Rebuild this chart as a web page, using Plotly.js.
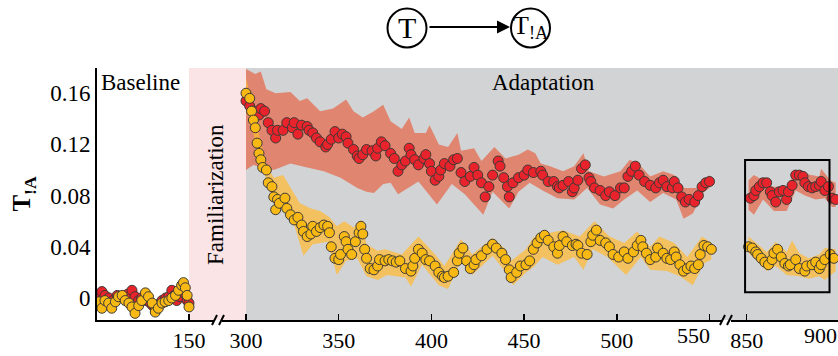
<!DOCTYPE html>
<html>
<head>
<meta charset="utf-8">
<script src="https://cdn.plot.ly/plotly-3.0.1.min.js"></script>
<style>
  html, body { margin: 0; padding: 0; background: #ffffff; }
  #chart { width: 838px; height: 356px; }
</style>
</head>
<body>
<div id="chart"></div>
<script>
// ---------- Baseline block (trials 1-150) ----------
const blRedX = [1, 5, 8, 13, 19, 26, 33, 38, 44, 50, 57, 62, 68, 73, 80, 87, 91, 95, 100, 106, 112, 117, 122, 126, 130, 135, 141, 144, 147, 150];
const blRedY = [0.001, 0.003, 0.005, 0.002, 0.000, -0.002, 0.002, 0.001, 0.000, 0.003, 0.006, 0.001, -0.002, 0.000, -0.002, -0.004, -0.006, -0.008, -0.005, -0.002, 0.000, 0.001, 0.006, 0.002, -0.002, 0.001, 0.005, 0.003, -0.002, -0.004];
const blYelX = [1, 3, 8, 13, 19, 24, 30, 35, 41, 46, 52, 57, 62, 68, 73, 79, 84, 90, 95, 100, 106, 111, 117, 122, 128, 133, 138, 141, 144, 147, 150];
const blYelY = [-0.004, -0.003, -0.008, -0.002, -0.004, -0.008, -0.003, 0.001, 0.002, -0.002, -0.004, -0.007, -0.012, -0.006, -0.002, 0.004, 0.001, -0.004, -0.011, -0.008, -0.004, -0.003, -0.002, 0.000, 0.002, 0.006, 0.010, 0.012, 0.008, 0.002, -0.007];
const blRedBandX = [1, 20, 40, 57, 75, 95, 115, 130, 142, 150];
const blRedLo = [-0.003, -0.004, -0.003, 0.001, -0.004, -0.011, -0.003, -0.005, 0.001, -0.007];
const blRedHi = [0.005, 0.004, 0.005, 0.009, 0.003, -0.004, 0.004, 0.003, 0.009, 0.000];
const blYelBandX = [1, 13, 24, 40, 62, 79, 95, 117, 138, 150];
const blYelLo = [-0.007, -0.005, -0.011, -0.001, -0.015, 0.000, -0.014, -0.005, 0.006, -0.010];
const blYelHi = [-0.001, 0.001, -0.005, 0.005, -0.009, 0.007, -0.008, 0.001, 0.014, -0.004];

// ---------- Adaptation block (trials 300-550) ----------
const adRedX = [300, 302, 304, 307, 308, 310, 312, 314, 316, 317, 320, 322, 325, 326, 328, 330, 333, 334, 336, 338, 340, 343, 344, 346, 348, 350, 352, 354, 355, 358, 360, 361, 363, 365, 368, 370, 371, 373, 375, 378, 380, 382, 384, 386, 388, 389, 391, 393, 396, 397, 399, 400, 402, 404, 405, 407, 410, 412, 414, 416, 418, 421, 423, 425, 427, 429, 431, 433, 436, 437, 439, 441, 442, 444, 447, 450, 452, 455, 459, 460, 463, 466, 468, 469, 471, 474, 476, 477, 479, 481, 483, 485, 486, 488, 491, 494, 496, 499, 502, 504, 506, 508, 510, 512, 515, 518, 521, 523, 525, 527, 530, 531, 533, 535, 537, 539, 542, 544, 546, 548, 550];
const adRedY = [0.154, 0.150, 0.146, 0.143, 0.148, 0.146, 0.137, 0.131, 0.125, 0.131, 0.131, 0.137, 0.133, 0.137, 0.128, 0.135, 0.134, 0.131, 0.129, 0.125, 0.122, 0.118, 0.120, 0.124, 0.130, 0.125, 0.128, 0.126, 0.121, 0.116, 0.111, 0.109, 0.112, 0.116, 0.115, 0.111, 0.117, 0.122, 0.119, 0.113, 0.109, 0.099, 0.104, 0.107, 0.117, 0.112, 0.108, 0.104, 0.109, 0.112, 0.105, 0.099, 0.092, 0.095, 0.100, 0.105, 0.103, 0.108, 0.109, 0.098, 0.091, 0.095, 0.102, 0.096, 0.090, 0.079, 0.087, 0.096, 0.107, 0.103, 0.094, 0.087, 0.079, 0.090, 0.094, 0.096, 0.100, 0.098, 0.099, 0.096, 0.091, 0.091, 0.087, 0.086, 0.088, 0.091, 0.083, 0.086, 0.092, 0.101, 0.104, 0.094, 0.091, 0.086, 0.084, 0.080, 0.083, 0.080, 0.086, 0.086, 0.095, 0.099, 0.103, 0.096, 0.091, 0.088, 0.086, 0.090, 0.092, 0.087, 0.086, 0.091, 0.086, 0.079, 0.075, 0.077, 0.075, 0.080, 0.087, 0.090, 0.091];
const adYelX = [300, 302, 303, 304, 305, 306, 307, 308, 309, 311, 312, 314, 315, 316, 317, 318, 321, 322, 324, 326, 328, 330, 331, 333, 335, 336, 338, 340, 342, 344, 345, 346, 348, 350, 351, 353, 354, 355, 357, 359, 361, 362, 363, 364, 365, 367, 369, 371, 372, 375, 377, 379, 381, 383, 386, 389, 390, 391, 393, 395, 397, 399, 402, 404, 406, 407, 409, 412, 414, 415, 417, 419, 421, 423, 424, 427, 430, 433, 435, 438, 440, 442, 443, 446, 448, 451, 453, 455, 457, 459, 461, 463, 466, 468, 469, 471, 473, 476, 478, 479, 481, 484, 486, 487, 489, 491, 494, 496, 498, 501, 504, 506, 509, 511, 513, 514, 516, 518, 521, 522, 525, 527, 529, 531, 532, 534, 536, 538, 540, 542, 544, 545, 547, 549, 551];
const adYelY = [0.160, 0.156, 0.146, 0.139, 0.133, 0.121, 0.113, 0.108, 0.102, 0.100, 0.090, 0.087, 0.079, 0.069, 0.077, 0.074, 0.078, 0.070, 0.065, 0.061, 0.063, 0.057, 0.052, 0.048, 0.050, 0.056, 0.052, 0.055, 0.057, 0.056, 0.051, 0.040, 0.031, 0.030, 0.034, 0.048, 0.044, 0.038, 0.034, 0.044, 0.051, 0.056, 0.050, 0.038, 0.031, 0.023, 0.022, 0.025, 0.030, 0.029, 0.030, 0.029, 0.028, 0.029, 0.023, 0.021, 0.025, 0.031, 0.038, 0.035, 0.030, 0.029, 0.025, 0.020, 0.017, 0.016, 0.017, 0.020, 0.029, 0.035, 0.039, 0.029, 0.023, 0.026, 0.030, 0.033, 0.038, 0.042, 0.039, 0.035, 0.030, 0.022, 0.016, 0.020, 0.025, 0.026, 0.029, 0.038, 0.043, 0.047, 0.049, 0.045, 0.040, 0.035, 0.041, 0.048, 0.044, 0.041, 0.042, 0.041, 0.035, 0.034, 0.044, 0.049, 0.053, 0.045, 0.043, 0.040, 0.034, 0.032, 0.036, 0.031, 0.036, 0.041, 0.045, 0.040, 0.035, 0.030, 0.032, 0.039, 0.035, 0.031, 0.030, 0.036, 0.032, 0.026, 0.021, 0.023, 0.025, 0.023, 0.026, 0.034, 0.041, 0.040, 0.038];
const adRedHiX = [300, 305, 308, 311, 316, 324, 329, 333, 340, 347, 354, 358, 363, 369, 374, 378, 384, 388, 391, 397, 399, 404, 409, 414, 416, 423, 427, 434, 440, 447, 452, 456, 459, 464, 471, 477, 482, 485, 493, 502, 507, 513, 518, 525, 531, 536, 543, 550];
const adRedHi = [0.179, 0.175, 0.177, 0.163, 0.160, 0.161, 0.154, 0.156, 0.146, 0.148, 0.155, 0.146, 0.141, 0.146, 0.151, 0.138, 0.132, 0.141, 0.129, 0.129, 0.135, 0.120, 0.118, 0.129, 0.115, 0.117, 0.107, 0.118, 0.109, 0.112, 0.116, 0.113, 0.105, 0.103, 0.099, 0.103, 0.113, 0.099, 0.095, 0.099, 0.108, 0.103, 0.095, 0.099, 0.096, 0.086, 0.086, 0.096];
const adRedLoX = [300, 304, 308, 315, 324, 333, 342, 351, 360, 365, 369, 374, 378, 382, 393, 403, 411, 418, 428, 433, 442, 447, 453, 460, 468, 477, 484, 491, 498, 504, 511, 518, 525, 532, 536, 541, 547, 550];
const adRedLo = [0.100, 0.104, 0.102, 0.100, 0.105, 0.102, 0.099, 0.094, 0.086, 0.083, 0.082, 0.089, 0.090, 0.081, 0.091, 0.073, 0.089, 0.081, 0.065, 0.083, 0.070, 0.083, 0.090, 0.084, 0.078, 0.077, 0.086, 0.073, 0.070, 0.077, 0.084, 0.075, 0.082, 0.077, 0.062, 0.066, 0.083, 0.086];
const adYelHiX = [300, 304, 308, 311, 315, 320, 326, 329, 335, 340, 345, 349, 353, 358, 362, 365, 371, 375, 384, 393, 402, 407, 416, 422, 433, 440, 443, 451, 455, 459, 464, 471, 480, 488, 496, 504, 511, 518, 523, 531, 538, 546, 551];
const adYelHi = [0.172, 0.146, 0.122, 0.104, 0.094, 0.096, 0.081, 0.074, 0.070, 0.068, 0.063, 0.056, 0.060, 0.055, 0.061, 0.042, 0.037, 0.038, 0.034, 0.048, 0.034, 0.025, 0.046, 0.034, 0.047, 0.038, 0.029, 0.038, 0.047, 0.051, 0.051, 0.053, 0.048, 0.060, 0.048, 0.043, 0.052, 0.040, 0.048, 0.043, 0.032, 0.048, 0.043];
const adYelLoX = [300, 304, 308, 311, 315, 320, 326, 331, 336, 344, 349, 354, 360, 365, 371, 376, 386, 389, 395, 404, 409, 416, 422, 433, 442, 444, 451, 455, 460, 468, 477, 482, 487, 495, 505, 513, 518, 527, 534, 541, 547, 551];
const adYelLo = [0.154, 0.128, 0.104, 0.092, 0.078, 0.070, 0.057, 0.033, 0.042, 0.044, 0.018, 0.029, 0.031, 0.017, 0.014, 0.018, 0.016, 0.009, 0.026, 0.010, 0.007, 0.029, 0.018, 0.033, 0.017, 0.010, 0.020, 0.024, 0.032, 0.026, 0.032, 0.022, 0.038, 0.032, 0.018, 0.032, 0.022, 0.021, 0.017, 0.010, 0.027, 0.030];

// ---------- Late block (trials 850-900) ----------
const ltRedX = [852, 854, 855, 857, 859, 861, 863, 864, 866, 868, 870, 872, 873, 875, 877, 879, 881, 882, 884, 886, 888, 890, 891, 893, 895, 897, 899];
const ltRedY = [0.078, 0.080, 0.084, 0.087, 0.090, 0.090, 0.083, 0.080, 0.075, 0.083, 0.084, 0.077, 0.083, 0.088, 0.096, 0.096, 0.095, 0.090, 0.087, 0.086, 0.087, 0.088, 0.091, 0.084, 0.087, 0.078, 0.077];
const ltYelX = [851, 853, 855, 856, 858, 860, 862, 864, 865, 867, 869, 871, 873, 874, 877, 879, 882, 883, 886, 888, 890, 891, 893, 896, 898];
const ltYelY = [0.040, 0.039, 0.036, 0.034, 0.031, 0.028, 0.026, 0.030, 0.035, 0.038, 0.032, 0.027, 0.025, 0.026, 0.030, 0.023, 0.021, 0.025, 0.026, 0.028, 0.023, 0.026, 0.030, 0.034, 0.031];
const ltRedHiX = [851, 854, 859, 864, 872, 877, 882, 890, 891, 896, 899];
const ltRedHi = [0.092, 0.096, 0.092, 0.087, 0.087, 0.099, 0.097, 0.095, 0.101, 0.092, 0.090];
const ltRedLoX = [851, 854, 859, 865, 872, 877, 882, 888, 893, 897, 899];
const ltRedLo = [0.069, 0.065, 0.077, 0.068, 0.068, 0.084, 0.080, 0.077, 0.078, 0.071, 0.071];
const ltYelHiX = [851, 855, 861, 866, 872, 875, 879, 884, 890, 893, 899];
const ltYelHi = [0.048, 0.043, 0.036, 0.044, 0.036, 0.045, 0.035, 0.031, 0.034, 0.039, 0.038];
const ltYelLoX = [851, 855, 861, 866, 872, 879, 884, 890, 893, 899];
const ltYelLo = [0.035, 0.030, 0.021, 0.025, 0.018, 0.017, 0.015, 0.017, 0.014, 0.021];

// ---------- Axis ticks ----------
const yTickVals = [0, 0.04, 0.08, 0.12, 0.16];
const yTickText = ['0', '0.04', '0.08', '0.12', '0.16'];
const blTickVals = [150];
const blTickText = ['150'];
const adTickVals = [300, 350, 400, 450, 500, 550];
const adTickText = ['300', '350', '400', '450', '500', ''];
const ltTickVals = [850, 900];
const ltTickText = ['850', ''];
// labels at the ends of the broken segments, nudged left of their ticks
const adEndTickVals = [550];
const adEndTickText = ['550'];
const ltEndTickVals = [900];
const ltEndTickText = ['900'];

// ---------- Styling ----------
const SERIF = 'Liberation Serif, Times New Roman, serif';
const RED = '#e8232b';
const YEL = '#f9b915';
const RED_BAND = 'rgba(228,112,82,0.78)';
const YEL_BAND = 'rgba(255,186,50,0.72)';
const BL_RED_BAND = 'rgba(240,110,110,0.35)';
const BL_YEL_BAND = 'rgba(250,190,60,0.35)';
const EDGE = '#3e3a36';

const W = 838, H = 356;
const M = {l: 97, r: 0, t: 68, b: 36};
const PW = W - M.l - M.r, PH = H - M.t - M.b;
// pixel -> paper helpers for the decorations
const fx = p => (p - M.l) / PW;
const fy = p => (H - M.b - p) / PH;

function band(xHi, yHi, xLo, yLo, color, xa) {
  return {
    type: 'scatter', mode: 'lines', xaxis: xa, yaxis: 'y',
    x: xHi.concat(xLo.slice().reverse()),
    y: yHi.concat(yLo.slice().reverse()),
    fill: 'toself', fillcolor: color, line: {width: 0},
    hoverinfo: 'skip', showlegend: false
  };
}
function dots(x, y, color, xa) {
  return {
    type: 'scatter', mode: 'markers', xaxis: xa, yaxis: 'y', x: x, y: y,
    marker: {size: 10, color: color, line: {width: 1, color: EDGE}},
    showlegend: false
  };
}
// empty trace so a label-only overlay axis gets its own subplot
function holder(xa) {
  return {type: 'scatter', mode: 'markers', xaxis: xa, yaxis: 'y', x: [], y: [],
          hoverinfo: 'skip', showlegend: false};
}

const traces = [
  band(blRedBandX, blRedHi, blRedBandX, blRedLo, BL_RED_BAND, 'x'),
  band(blYelBandX, blYelHi, blYelBandX, blYelLo, BL_YEL_BAND, 'x'),
  dots(blRedX, blRedY, RED, 'x'),
  dots(blYelX, blYelY, YEL, 'x'),
  band(adRedHiX, adRedHi, adRedLoX, adRedLo, RED_BAND, 'x2'),
  band(adYelHiX, adYelHi, adYelLoX, adYelLo, YEL_BAND, 'x2'),
  dots(adRedX, adRedY, RED, 'x2'),
  dots(adYelX, adYelY, YEL, 'x2'),
  band(ltRedHiX, ltRedHi, ltRedLoX, ltRedLo, RED_BAND, 'x3'),
  band(ltYelHiX, ltYelHi, ltYelLoX, ltYelLo, YEL_BAND, 'x3'),
  dots(ltRedX, ltRedY, RED, 'x3'),
  dots(ltYelX, ltYelY, YEL, 'x3'),
  holder('x4'),
  holder('x5')
];

const xCommon = {
  anchor: 'y', showline: true, linecolor: '#000', linewidth: 2,
  ticks: 'inside', ticklen: 6, tickwidth: 1.5, tickcolor: '#000',
  tickmode: 'array', showgrid: false, zeroline: false,
  tickfont: {family: SERIF, size: 22, color: '#000'}
};
const xLabelOnly = {
  anchor: 'y', side: 'bottom', showline: false, ticks: '', tickmode: 'array',
  showgrid: false, zeroline: false, ticklabeloverflow: 'allow', autorange: false,
  tickfont: {family: SERIF, size: 22, color: '#000'}
};

// three x segments with broken axis between them
const seg1 = {a: M.l, b: 214, v0: 0, p0: 97, v1: 150, p1: 189};
const seg2 = {a: 222, b: 722, v0: 300, p0: 246, v1: 550, p1: 709.5};
const seg3 = {a: 731, b: 838, v0: 850, p0: 746.7, v1: 900, p1: 837.5};
function segRange(s) {
  const k = (s.p1 - s.p0) / (s.v1 - s.v0);
  return [s.v0 + (s.a - s.p0) / k, s.v0 + (s.b - s.p0) / k];
}

const shapes = [
  // phase backgrounds
  {type: 'rect', xref: 'paper', yref: 'paper', x0: fx(189), x1: fx(246), y0: 0, y1: 1,
   fillcolor: '#fbe4e5', line: {width: 0}, layer: 'below'},
  {type: 'rect', xref: 'paper', yref: 'paper', x0: fx(246), x1: 1, y0: 0, y1: 1,
   fillcolor: '#d2d3d5', line: {width: 0}, layer: 'below'},
  // axis break marks
  {type: 'line', xref: 'paper', yref: 'paper', x0: fx(212), x1: fx(217), y0: fy(325), y1: fy(315), line: {color: '#000', width: 2}},
  {type: 'line', xref: 'paper', yref: 'paper', x0: fx(219), x1: fx(224), y0: fy(325), y1: fy(315), line: {color: '#000', width: 2}},
  {type: 'line', xref: 'paper', yref: 'paper', x0: fx(720), x1: fx(725), y0: fy(325), y1: fy(315), line: {color: '#000', width: 2}},
  {type: 'line', xref: 'paper', yref: 'paper', x0: fx(727), x1: fx(732), y0: fy(325), y1: fy(315), line: {color: '#000', width: 2}},
  // highlight box over the late block
  {type: 'rect', xref: 'x3', yref: 'y', x0: 849.1, x1: 895.6, y0: 0.0045, y1: 0.1078,
   line: {color: '#000', width: 2}, fillcolor: 'rgba(0,0,0,0)'},
  // causal diagram nodes
  {type: 'circle', xref: 'paper', yref: 'paper', x0: fx(387.5), x1: fx(426.5), y0: fy(47.5), y1: fy(8.5),
   line: {color: '#000', width: 2}},
  {type: 'circle', xref: 'paper', yref: 'paper', x0: fx(511), x1: fx(550), y0: fy(47.5), y1: fy(8.5),
   line: {color: '#000', width: 2}}
];

const annotations = [
  {text: 'Baseline', xref: 'paper', yref: 'paper', x: fx(99), y: fy(82), xanchor: 'left', yanchor: 'middle',
   showarrow: false, font: {family: SERIF, size: 23, color: '#000'}},
  {text: 'Adaptation', xref: 'paper', yref: 'paper', x: fx(543), y: fy(82), xanchor: 'center', yanchor: 'middle',
   showarrow: false, font: {family: SERIF, size: 23, color: '#000'}},
  {text: 'Familiarization', xref: 'paper', yref: 'paper', x: fx(215), y: fy(195), textangle: -90,
   xanchor: 'center', yanchor: 'middle', showarrow: false, font: {family: SERIF, size: 23, color: '#000'}},
  {text: 'T', xref: 'paper', yref: 'paper', x: fx(407), y: fy(28), xanchor: 'center', yanchor: 'middle',
   showarrow: false, font: {family: SERIF, size: 30, color: '#000'}},
  {text: 'T<sub>!A</sub>', xref: 'paper', yref: 'paper', x: fx(530), y: fy(27), xanchor: 'center', yanchor: 'middle',
   showarrow: false, font: {family: SERIF, size: 26, color: '#000'}},
  {text: '', xref: 'paper', yref: 'paper', x: fx(510), y: fy(27), ax: -82, ay: 0,
   showarrow: true, arrowhead: 2, arrowsize: 1.3, arrowwidth: 2, arrowcolor: '#000', standoff: 0}
];

const layout = {
  width: W, height: H, margin: M,
  paper_bgcolor: '#ffffff', plot_bgcolor: 'rgba(0,0,0,0)',
  showlegend: false,
  xaxis: Object.assign({}, xCommon, {domain: [0, fx(seg1.b)], range: segRange(seg1),
    tickvals: blTickVals, ticktext: blTickText}),
  xaxis2: Object.assign({}, xCommon, {domain: [fx(seg2.a), fx(seg2.b)], range: segRange(seg2),
    tickvals: adTickVals, ticktext: adTickText}),
  xaxis3: Object.assign({}, xCommon, {domain: [fx(seg3.a), 1], range: segRange(seg3),
    tickvals: ltTickVals, ticktext: ltTickText}),
  xaxis4: Object.assign({}, xLabelOnly, {overlaying: 'x2', range: segRange(seg2),
    tickvals: adEndTickVals, ticktext: adEndTickText, ticklabelshift: -16}),
  xaxis5: Object.assign({}, xLabelOnly, {overlaying: 'x3', range: segRange(seg3),
    tickvals: ltEndTickVals, ticktext: ltEndTickText, ticklabelshift: -17}),
  yaxis: {
    anchor: 'x', domain: [0, 1], range: [-0.0172, 0.1797],
    showline: true, linecolor: '#000', linewidth: 2, ticks: '',
    tickmode: 'array', tickvals: yTickVals, ticktext: yTickText,
    showgrid: false, zeroline: false,
    tickfont: {family: SERIF, size: 23, color: '#000'},
    title: {text: '<b>T<sub>!A</sub></b>', font: {family: SERIF, size: 25, color: '#000'}, standoff: 12}
  },
  shapes: shapes,
  annotations: annotations
};

Plotly.newPlot('chart', traces, layout, {displayModeBar: false, staticPlot: true});
</script>
</body>
</html>
